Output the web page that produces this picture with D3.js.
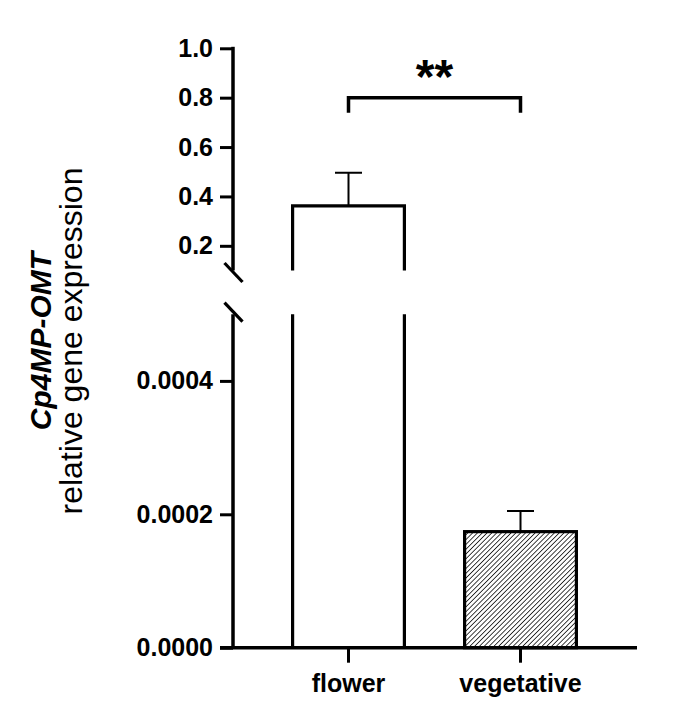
<!DOCTYPE html>
<html>
<head>
<meta charset="utf-8">
<script src="https://d3js.org/d3.v7.min.js"></script>
<style>
  body { margin: 0; background: #fff; }
  svg { display: block; font-family: Arial, "Liberation Sans", Helvetica, sans-serif; }
</style>
</head>
<body>
<div id="chart"></div>
<script>
// data
const categories = ["flower", "vegetative"];
const means = [0.362, 0.000174];
const errors = [0.134, 0.000031];
const upperTicks = [0.2, 0.4, 0.6, 0.8, 1.0];
const lowerTicks = [0, 0.0002, 0.0004];
const upperDomain = [0.1, 1.0];
const lowerDomain = [0, 0.0005];
const significance = "**";

const width = 685;
const height = 720;
const axisX = 233;

const svg = d3.select("#chart")
    .append("svg")
    .attr("width", width)
    .attr("height", height);

// hatch for the vegetative bar
svg.append("defs").append("pattern")
    .attr("id", "hatch")
    .attr("patternUnits", "userSpaceOnUse")
    .attr("width", 3.4)
    .attr("height", 3.4)
    .attr("patternTransform", "rotate(45)")
    .append("line")
    .attr("x1", 0).attr("y1", 0)
    .attr("x2", 0).attr("y2", 3.4)
    .attr("stroke", "#000")
    .attr("stroke-width", 1.5);

// scales
const x = d3.scaleBand()
    .domain(categories)
    .range([262.5, 606.5])
    .paddingInner(0.35)
    .paddingOuter(0.175);

const yTop = d3.scaleLinear().domain(upperDomain).range([270.5, 48.3]);
const yBot = d3.scaleLinear().domain(lowerDomain).range([647.7, 314.2]);

// bars
const barStroke = 3.2;
categories.forEach((c, i) => {
    const x0 = x(c);
    const x1 = x(c) + x.bandwidth();
    if (means[i] > lowerDomain[1]) {
        // broken bar: lower part only sides, upper part sides + top
        svg.append("path")
            .attr("d", `M${x0},${yBot(0)}V${yBot(lowerDomain[1])}M${x1},${yBot(0)}V${yBot(lowerDomain[1])}`)
            .attr("fill", "none")
            .attr("stroke", "#000")
            .attr("stroke-width", barStroke);
        svg.append("path")
            .attr("d", `M${x0},${yTop(upperDomain[0])}V${yTop(means[i])}H${x1}V${yTop(upperDomain[0])}`)
            .attr("fill", "none")
            .attr("stroke", "#000")
            .attr("stroke-width", barStroke);
    } else {
        svg.append("rect")
            .attr("x", x0)
            .attr("y", yBot(means[i]))
            .attr("width", x.bandwidth())
            .attr("height", yBot(0) - yBot(means[i]))
            .attr("fill", "url(#hatch)")
            .attr("stroke", "#000")
            .attr("stroke-width", barStroke);
    }
});

// error bars (upper only)
categories.forEach((c, i) => {
    const cx = x(c) + x.bandwidth() / 2;
    const y = means[i] > lowerDomain[1] ? yTop : yBot;
    const cap = 13.5;
    svg.append("path")
        .attr("d", `M${cx},${y(means[i])}V${y(means[i] + errors[i])}M${cx - cap},${y(means[i] + errors[i])}H${cx + cap}`)
        .attr("fill", "none")
        .attr("stroke", "#000")
        .attr("stroke-width", 2);
});

// y axes, two segments
function styleAxis(g) {
    g.select(".domain").remove();
    g.selectAll(".tick line")
        .attr("stroke", "#000")
        .attr("stroke-width", 3);
    g.selectAll(".tick text")
        .attr("x", -20)
        .attr("fill", "#000")
        .style("font-size", "25px")
        .style("font-weight", "bold");
}

const axisTop = svg.append("g")
    .attr("transform", `translate(${axisX},0)`)
    .call(d3.axisLeft(yTop).tickValues(upperTicks).tickFormat(d3.format(".1f")).tickSize(13));
styleAxis(axisTop);

const axisBot = svg.append("g")
    .attr("transform", `translate(${axisX},0)`)
    .call(d3.axisLeft(yBot).tickValues(lowerTicks).tickFormat(d3.format(".4f")).tickSize(13));
styleAxis(axisBot);

svg.append("line")
    .attr("x1", axisX).attr("x2", axisX)
    .attr("y1", yTop(1.0) - 1.5).attr("y2", yTop(upperDomain[0]))
    .attr("stroke", "#000").attr("stroke-width", 3.5);
svg.append("line")
    .attr("x1", axisX).attr("x2", axisX)
    .attr("y1", yBot(lowerDomain[1])).attr("y2", yBot(0))
    .attr("stroke", "#000").attr("stroke-width", 3.5);

// break marks
[yTop(upperDomain[0]) + 2, yBot(lowerDomain[1]) - 2].forEach(yy => {
    svg.append("line")
        .attr("x1", axisX - 8.5).attr("y1", yy - 9.5)
        .attr("x2", axisX + 9.5).attr("y2", yy + 9.5)
        .attr("stroke", "#000")
        .attr("stroke-width", 3.2);
});

// x axis
svg.append("line")
    .attr("x1", axisX - 13).attr("x2", 637)
    .attr("y1", yBot(0)).attr("y2", yBot(0))
    .attr("stroke", "#000").attr("stroke-width", 3.5);

const xAxis = svg.append("g")
    .attr("transform", `translate(0,${yBot(0)})`)
    .call(d3.axisBottom(x).tickSize(15).tickPadding(12));
xAxis.select(".domain").remove();
xAxis.selectAll(".tick line").attr("stroke", "#000").attr("stroke-width", 3);
xAxis.selectAll(".tick text")
    .attr("fill", "#000")
    .style("font-size", "25px")
    .style("font-weight", "bold");

// significance bracket
const bx0 = x(categories[0]) + x.bandwidth() / 2;
const bx1 = x(categories[1]) + x.bandwidth() / 2;
const by = yTop(0.8);
svg.append("path")
    .attr("d", `M${bx0},${by + 15}V${by}H${bx1}V${by + 15}`)
    .attr("fill", "none")
    .attr("stroke", "#000")
    .attr("stroke-width", 3.5);
svg.append("text")
    .attr("x", (bx0 + bx1) / 2)
    .attr("y", by - 5)
    .attr("text-anchor", "middle")
    .style("font-size", "48px")
    .style("font-weight", "bold")
    .text(significance);

// y title
const title = svg.append("text")
    .attr("transform", "translate(0,341) rotate(-90)")
    .attr("text-anchor", "middle");
title.append("tspan")
    .attr("x", 0)
    .attr("y", 51)
    .style("font-size", "30px")
    .style("font-weight", "bold")
    .style("font-style", "italic")
    .text("Cp4MP-OMT");
title.append("tspan")
    .attr("x", 0)
    .attr("y", 82)
    .style("font-size", "32px")
    .text("relative gene expression");
</script>
</body>
</html>
